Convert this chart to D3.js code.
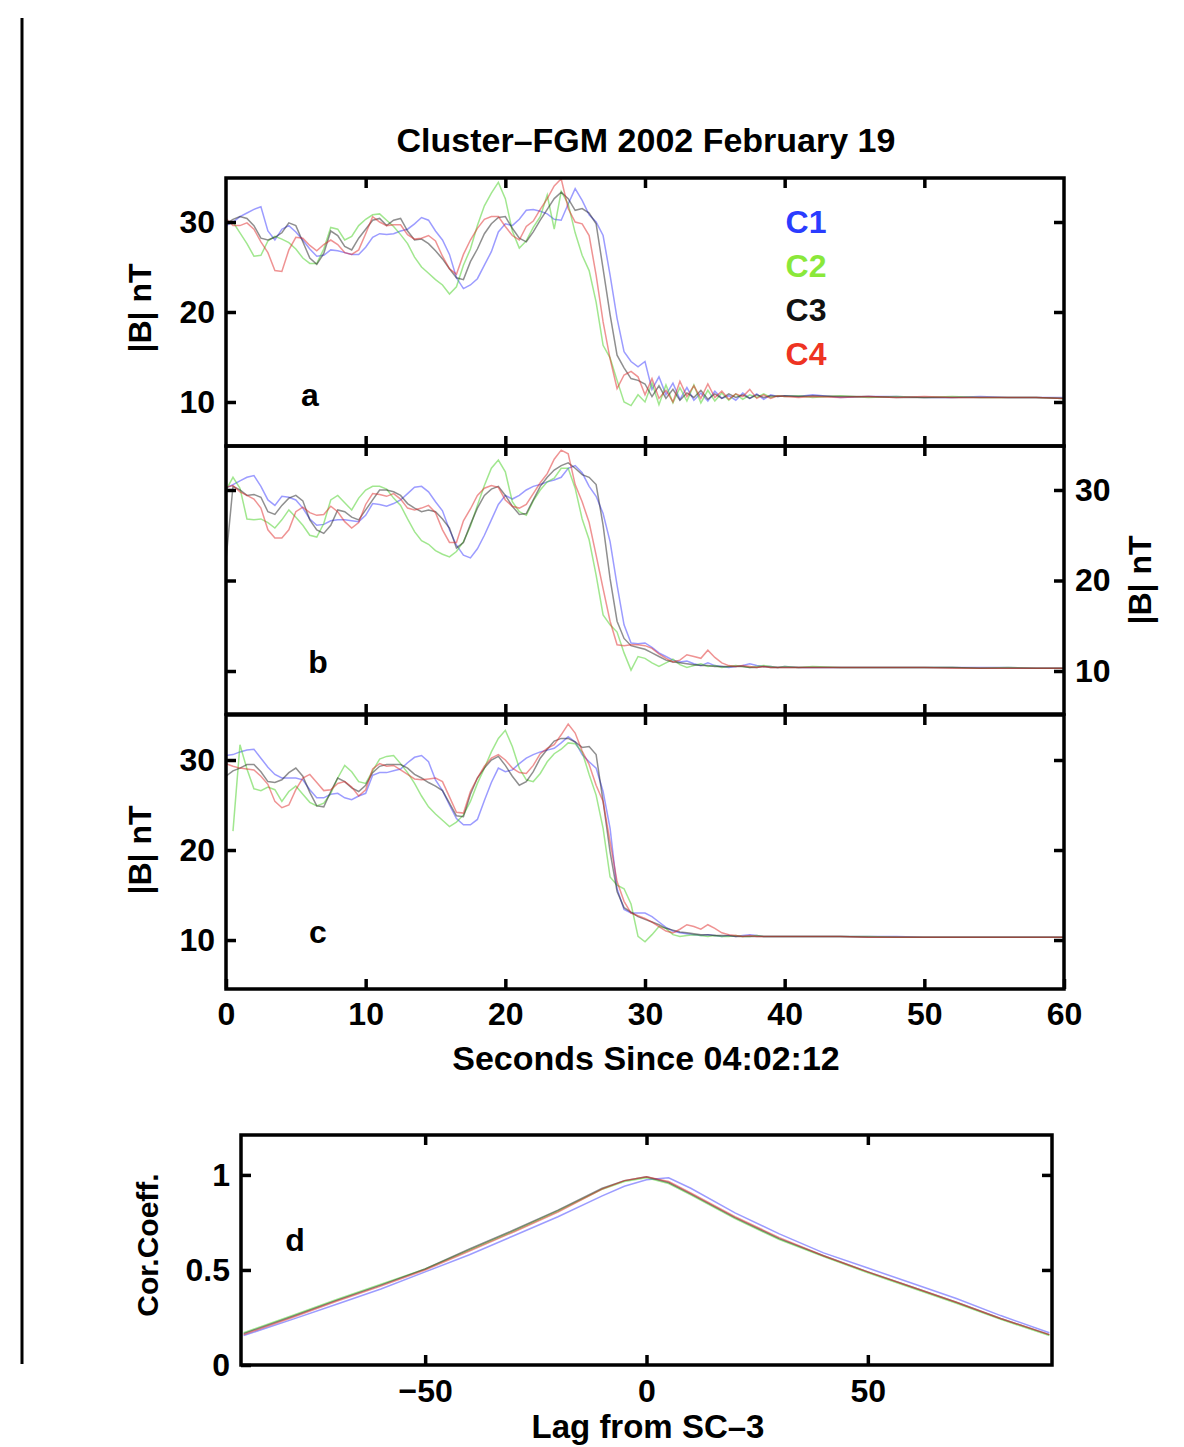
<!DOCTYPE html>
<html>
<head>
<meta charset="utf-8">
<script src="https://cdn.jsdelivr.net/npm/d3@7"></script>
<style>
  body { margin: 0; background: #fff; }
  text { font-family: "Liberation Sans", Arial, sans-serif; font-weight: bold; fill: #000; }
</style>
</head>
<body>
<svg id="chart" width="1184" height="1447"></svg>
<script>
// time grid, seconds since 04:02:12
const secs = [
  0,0.5,1,1.5,2,2.5,3,3.5,4,4.5,
  5,5.5,6,6.5,7,7.5,8,8.5,9,9.5,
  10,10.5,11,11.5,12,12.5,13,13.5,14,14.5,
  15,15.5,16,16.5,17,17.5,18,18.5,19,19.5,
  20,20.5,21,21.5,22,22.5,23,23.5,24,24.5,
  25,25.5,26,26.5,27,27.5,28,28.5,29,29.5,
  30,30.5,31,31.5,32,32.5,33,33.5,34,34.5,
  35,35.5,36,36.5,37,37.5,38,38.5,39,39.5,
  40,41,42,44,46,48,50,52,54,56,58,60
];

// panel a : |B| as measured
const aC1 = [
  29.6,30.0,30.6,31.0,31.4,31.7,29.0,28.0,29.2,29.6,
  28.9,28.0,27.0,26.2,26.3,26.9,26.8,26.6,26.4,26.4,
  27.2,28.3,28.7,28.6,28.7,29.0,29.2,29.8,30.5,30.2,
  29.0,28.0,26.4,23.8,22.6,23.0,23.7,25.2,26.7,28.9,
  29.8,29.6,30.3,31.3,31.4,31.2,30.9,30.3,30.2,32.0,
  33.7,32.4,30.8,30.0,28.5,24.1,19.3,15.6,14.5,13.9,
  14.5,11.4,12.8,10.8,12.1,10.3,11.6,10.2,11.0,10.1,
  11.2,10.4,10.7,10.2,11.0,10.4,10.9,10.3,10.8,10.6,
  10.7,10.6,10.8,10.5,10.6,10.6,10.5,10.5,10.6,10.5,10.5,10.5
];
const aC2 = [
  30.0,30.0,28.8,27.6,26.2,26.3,27.9,28.4,28.1,27.7,
  27.0,26.0,25.4,25.4,27.0,29.4,29.2,28.0,28.4,29.6,
  30.3,30.8,30.9,30.2,29.5,28.6,27.6,26.1,25.0,24.3,
  23.6,23.0,22.0,22.8,25.2,27.0,29.6,31.8,33.2,34.4,
  32.6,29.0,27.1,27.9,29.4,30.6,33.0,29.2,33.4,32.0,
  28.8,26.3,24.6,21.1,16.3,14.9,12.4,10.0,9.6,10.8,
  10.0,12.1,9.7,11.9,9.9,11.6,10.1,11.9,9.9,11.3,
  10.1,11.0,10.2,10.9,10.3,10.8,10.5,10.9,10.5,10.7,
  10.6,10.7,10.5,10.7,10.5,10.6,10.5,10.6,10.5,10.5,10.5,10.4
];
const aC3 = [
  29.8,30.3,30.6,30.4,29.6,28.2,28.0,28.3,28.8,29.9,
  29.6,27.8,26.0,25.3,26.5,29.0,28.5,27.3,26.9,28.2,
  29.2,30.2,30.4,29.6,30.2,30.4,29.0,28.0,28.1,27.6,
  26.8,25.9,24.8,23.8,23.6,25.6,27.0,28.7,29.8,30.5,
  30.6,29.3,28.2,27.8,28.9,30.2,31.4,32.6,33.3,32.6,
  31.3,31.5,31.0,29.8,24.8,19.7,15.2,13.8,12.6,12.4,
  12.0,10.6,11.8,10.4,11.4,10.2,11.0,10.5,11.3,10.3,
  10.9,10.4,10.9,10.5,10.8,10.4,10.8,10.5,10.7,10.6,
  10.7,10.6,10.7,10.6,10.6,10.5,10.5,10.5,10.5,10.5,10.5,10.4
];
const aC4 = [
  30.4,29.6,29.6,29.9,29.2,27.8,26.6,24.6,24.5,26.9,
  28.3,28.2,27.4,26.8,27.5,28.0,27.5,26.6,26.4,26.9,
  28.7,30.6,30.0,29.6,29.7,29.7,28.6,28.1,28.2,28.5,
  27.9,26.2,24.8,24.2,26.4,28.0,29.3,30.3,30.6,30.6,
  29.5,28.5,28.0,29.5,30.1,31.4,32.6,34.0,34.8,31.5,
  30.0,29.8,28.5,24.1,18.9,14.8,11.5,13.0,13.4,12.8,
  10.8,12.6,10.4,11.3,10.0,12.3,10.6,11.8,10.4,12.0,
  10.5,11.2,10.3,10.9,10.6,11.4,10.4,10.8,10.4,10.7,
  10.6,10.5,10.6,10.5,10.6,10.5,10.6,10.5,10.5,10.5,10.5,10.4
];

// panel b
const bC1 = [
  30.2,30.6,31.0,31.4,31.6,30.4,28.9,28.3,29.3,29.2,
  28.9,28.0,26.8,26.1,26.2,26.6,26.7,26.7,26.6,26.5,
  27.2,28.5,28.4,28.2,28.5,28.9,29.6,30.3,30.4,29.8,
  28.7,27.7,25.6,23.9,22.8,22.5,23.5,25.0,26.7,28.4,
  29.4,29.0,29.4,30.0,30.4,30.6,30.9,31.1,31.4,32.4,
  32.7,31.9,30.4,29.3,27.4,24.3,19.5,15.1,13.1,13.0,
  13.1,12.6,12.0,11.6,11.2,11.0,11.1,10.8,10.6,10.9,
  10.6,10.5,10.4,10.5,10.6,10.8,10.6,10.5,10.5,10.4,
  10.5,10.4,10.4,10.4,10.4,10.4,10.4,10.4,10.4,10.4,10.3,10.3
];
const bC2 = [
  30.0,31.4,30.2,26.8,26.7,26.8,26.4,25.8,26.7,27.8,
  27.0,26.1,25.0,24.8,26.3,28.9,29.4,28.6,27.8,29.1,
  30.0,30.4,30.4,30.1,29.1,28.3,26.8,25.4,24.4,24.0,
  23.3,22.9,22.6,23.2,24.3,26.0,28.3,30.5,32.4,33.3,
  32.0,28.7,27.6,27.2,28.8,30.0,30.9,31.3,32.4,32.4,
  30.2,26.8,24.5,20.6,16.2,15.1,14.3,12.0,10.1,11.6,
  11.4,10.9,10.5,10.9,11.3,10.7,10.4,10.6,10.8,10.5,
  10.6,10.4,10.5,10.6,10.5,10.4,10.5,10.6,10.5,10.4,
  10.5,10.4,10.5,10.4,10.4,10.4,10.4,10.4,10.3,10.4,10.3,10.3
];
const bC3 = [
  22.3,30.4,30.0,29.4,29.5,29.2,27.6,27.3,28.3,29.1,
  29.4,28.8,26.7,25.6,25.2,26.1,27.8,27.6,27.0,26.7,
  27.8,28.9,30.0,30.0,29.8,29.4,28.5,28.0,27.6,27.8,
  27.6,26.8,25.8,23.6,24.2,26.2,28.0,29.4,30.1,30.4,
  29.4,28.2,27.3,27.4,28.9,30.4,31.4,32.2,32.7,33.0,
  32.4,31.7,31.4,30.6,26.1,20.2,15.5,13.6,12.8,12.6,
  12.4,12.0,11.6,11.2,11.0,10.9,10.8,10.7,10.6,10.6,
  10.5,10.5,10.5,10.5,10.5,10.4,10.4,10.5,10.4,10.4,
  10.4,10.4,10.4,10.4,10.4,10.4,10.4,10.4,10.3,10.3,10.3,10.3
];
const bC4 = [
  30.3,30.5,29.8,29.4,29.0,28.0,25.6,24.7,24.7,25.6,
  27.6,28.1,27.5,27.2,27.3,28.2,27.6,26.5,25.8,26.4,
  28.4,29.6,29.5,29.3,29.6,29.0,28.0,27.8,28.0,28.3,
  27.5,25.6,24.2,24.2,26.6,27.9,29.4,30.2,30.5,30.3,
  28.9,28.2,28.0,28.4,29.6,30.8,31.8,33.4,34.4,34.0,
  30.6,28.7,26.4,22.8,19.1,15.5,12.9,12.8,12.9,12.9,
  12.8,12.5,11.9,11.4,11.0,11.2,11.8,11.6,11.4,12.3,
  11.5,10.9,10.6,10.5,10.6,10.5,10.4,10.5,10.4,10.4,
  10.4,10.4,10.4,10.4,10.4,10.4,10.4,10.3,10.3,10.3,10.3,10.3
];

// panel c
const cC1 = [
  30.5,30.6,30.9,31.1,31.2,30.2,29.2,28.4,28.0,28.0,
  28.0,27.8,26.7,25.8,25.8,26.2,26.3,25.8,25.6,26.0,
  26.3,28.3,28.6,28.6,28.8,29.0,29.7,30.3,30.5,29.8,
  27.8,26.6,25.0,23.5,22.8,22.8,23.4,25.5,27.5,29.1,
  28.7,28.9,29.6,30.2,30.6,30.9,31.1,31.3,31.9,32.6,
  32.0,30.6,29.8,29.1,26.5,22.4,15.7,13.4,13.0,13.0,
  13.0,12.6,12.0,11.4,11.0,10.8,10.7,10.6,10.5,10.6,
  10.5,10.4,10.5,10.4,10.5,10.6,10.5,10.4,10.4,10.4,
  10.4,10.4,10.4,10.4,10.4,10.4,10.3,10.3,10.3,10.3,10.3,10.3
];
const cC2 = [
  null,22.1,31.7,29.0,26.8,26.6,27.0,26.7,25.4,26.5,
  27.1,26.2,25.3,24.9,25.2,26.3,28.0,29.4,28.7,27.6,
  27.4,28.8,30.1,30.4,30.5,29.6,28.6,27.4,26.0,24.8,
  24.0,23.3,22.6,23.1,23.9,25.4,27.4,29.1,30.9,32.4,
  33.3,31.5,29.1,27.8,27.6,28.5,29.8,30.7,31.2,31.9,
  31.8,30.9,28.4,26.1,22.4,17.0,16.1,15.7,14.0,10.4,
  9.8,10.6,11.5,11.3,10.6,10.4,10.5,10.6,10.5,10.4,
  10.5,10.4,10.4,10.5,10.4,10.4,10.5,10.4,10.4,10.4,
  10.4,10.4,10.4,10.4,10.4,10.3,10.3,10.3,10.3,10.3,10.3,10.3
];
const cC3 = [
  28.2,28.8,29.1,29.5,29.5,28.7,27.6,27.5,27.8,28.6,
  29.1,28.2,26.4,24.9,24.8,26.5,28.0,27.6,26.9,26.5,
  27.2,28.6,29.3,29.5,29.5,29.5,29.1,28.4,28.0,27.5,
  27.1,26.6,25.2,23.8,23.7,26.2,28.0,29.1,30.0,30.4,
  29.4,28.2,27.2,27.6,28.7,30.2,31.2,32.1,32.4,32.4,
  32.0,31.4,31.5,30.6,25.4,19.8,15.4,13.6,13.1,12.6,
  12.3,12.0,11.7,11.3,11.1,10.9,10.8,10.7,10.6,10.6,
  10.5,10.5,10.5,10.4,10.4,10.4,10.4,10.4,10.4,10.4,
  10.4,10.4,10.4,10.4,10.3,10.3,10.3,10.3,10.3,10.3,10.3,10.3
];
const cC4 = [
  29.6,29.3,29.1,29.0,28.9,28.2,27.3,25.4,24.7,25.0,
  26.7,28.0,28.4,27.5,26.6,26.7,27.4,27.6,27.0,26.0,
  26.7,29.0,29.6,29.3,29.4,28.9,28.4,27.9,27.8,27.9,
  28.0,27.6,25.9,24.2,24.1,26.5,28.0,29.3,30.2,30.6,
  30.0,29.1,28.6,28.5,29.4,30.7,31.3,31.7,32.8,34.0,
  33.0,31.0,29.5,27.2,25.4,20.9,16.5,14.3,13.0,12.7,
  12.4,12.0,11.5,11.0,10.8,11.2,11.7,11.5,11.2,11.7,
  11.3,10.8,10.6,10.5,10.4,10.5,10.4,10.4,10.4,10.4,
  10.4,10.4,10.4,10.4,10.3,10.3,10.3,10.3,10.3,10.3,10.3,10.3
];

// panel d : correlation with SC-3 against lag
const lags = [-91,-80,-70,-60,-50,-40,-30,-20,-10,-5,0,5,10,20,30,40,50,60,70,80,91];
const dC1 = [0.155,0.24,0.32,0.40,0.49,0.58,0.68,0.78,0.89,0.94,0.975,0.985,0.93,0.80,0.69,0.59,0.51,0.43,0.35,0.26,0.17];
const dC2 = [0.17,0.26,0.345,0.425,0.505,0.605,0.705,0.81,0.925,0.965,0.985,0.955,0.895,0.77,0.66,0.57,0.485,0.405,0.325,0.24,0.155];
const dC3 = [0.165,0.255,0.34,0.42,0.505,0.61,0.71,0.815,0.93,0.97,0.99,0.96,0.90,0.775,0.665,0.575,0.49,0.41,0.33,0.245,0.16];
const dC4 = [0.16,0.25,0.335,0.415,0.50,0.60,0.70,0.805,0.925,0.97,0.99,0.965,0.905,0.78,0.67,0.575,0.49,0.41,0.33,0.245,0.16];

const craftNames = ["C1", "C2", "C3", "C4"];
const lineColors = ["#3a3aff", "#44d020", "#202020", "#e02828"];
const legendColors = ["#2a3cff", "#8ae83a", "#111111", "#ee3322"];
const bTicks = [10, 20, 30];

const svg = d3.select("#chart");
const L = 226, R = 1064;
const x = d3.scaleLinear().domain([0, 60]).range([L, R]);

const panels = [
  {letter: "a", top: 178, bottom: 446, lo: 5.11, hi: 34.89, rows: [aC1, aC2, aC3, aC4], side: "left", lpos: [310, 395]},
  {letter: "b", top: 446, bottom: 714, lo: 5.25, hi: 34.86, rows: [bC1, bC2, bC3, bC4], side: "right", lpos: [318, 662]},
  {letter: "c", top: 715, bottom: 989, lo: 4.56, hi: 35.0, rows: [cC1, cC2, cC3, cC4], side: "left", lpos: [318, 932]}
];

function styleAxis(g) {
  g.select(".domain").remove();
  g.selectAll(".tick line").attr("stroke", "#000").attr("stroke-width", 3.5);
  g.selectAll(".tick text").attr("font-size", 32).attr("fill", "#000")
    .attr("font-family", "Liberation Sans, Arial, sans-serif").attr("font-weight", "bold");
}

panels.forEach((p, i) => {
  const y = d3.scaleLinear().domain([p.lo, p.hi]).range([p.bottom, p.top]);
  const clipId = "clip" + i;
  svg.append("clipPath").attr("id", clipId)
    .append("rect").attr("x", L).attr("y", p.top).attr("width", R - L).attr("height", p.bottom - p.top);

  const line = d3.line()
    .defined(d => d[1] != null)
    .x(d => x(d[0]))
    .y(d => y(d[1]));

  const g = svg.append("g").attr("clip-path", "url(#" + clipId + ")");
  p.rows.forEach((vals, k) => {
    g.append("path")
      .datum(secs.map((t, j) => [t, vals[j]]))
      .attr("fill", "none")
      .attr("stroke", lineColors[k])
      .attr("stroke-opacity", 0.5)
      .attr("stroke-width", 1.5)
      .attr("d", line);
  });

  // inward ticks
  svg.append("g").attr("transform", "translate(0," + p.top + ")")
    .call(d3.axisTop(x).tickValues([10, 20, 30, 40, 50]).tickSizeInner(-10).tickSizeOuter(0).tickFormat(""))
    .call(styleAxis);
  const bottomAxis = d3.axisBottom(x).tickSizeInner(-10).tickSizeOuter(0).tickPadding(13);
  if (i === 2) bottomAxis.tickValues([0, 10, 20, 30, 40, 50, 60]);
  else bottomAxis.tickValues([10, 20, 30, 40, 50]).tickFormat("");
  svg.append("g").attr("transform", "translate(0," + p.bottom + ")").call(bottomAxis).call(styleAxis);

  const leftAxis = d3.axisLeft(y).tickValues(bTicks).tickSizeInner(-10).tickSizeOuter(0).tickPadding(11);
  const rightAxis = d3.axisRight(y).tickValues(bTicks).tickSizeInner(-10).tickSizeOuter(0).tickPadding(11);
  if (p.side === "left") rightAxis.tickFormat(""); else leftAxis.tickFormat("");
  svg.append("g").attr("transform", "translate(" + L + ",0)").call(leftAxis).call(styleAxis);
  svg.append("g").attr("transform", "translate(" + R + ",0)").call(rightAxis).call(styleAxis);

  svg.append("rect").attr("x", L).attr("y", p.top).attr("width", R - L).attr("height", p.bottom - p.top)
    .attr("fill", "none").attr("stroke", "#000").attr("stroke-width", 3.5);

  svg.append("text").attr("x", p.lpos[0]).attr("y", p.lpos[1]).attr("text-anchor", "middle")
    .attr("dominant-baseline", "central").attr("font-size", 32).text(p.letter);
});

// legend in panel a
craftNames.forEach((name, k) => {
  svg.append("text").attr("x", 806).attr("y", 222 + k * 44).attr("text-anchor", "middle")
    .attr("dominant-baseline", "central").attr("font-size", 32)
    .style("fill", legendColors[k]).text(name);
});

// titles and axis labels
svg.append("text").attr("x", 646).attr("y", 140).attr("text-anchor", "middle")
  .attr("dominant-baseline", "central").attr("font-size", 34).text("Cluster\u2013FGM 2002 February 19");
svg.append("text").attr("x", 646).attr("y", 1058).attr("text-anchor", "middle")
  .attr("dominant-baseline", "central").attr("font-size", 34).text("Seconds Since 04:02:12");
[[140, 308], [1140, 580], [140, 850]].forEach(pos => {
  svg.append("text").attr("transform", "translate(" + pos[0] + "," + pos[1] + ") rotate(-90)")
    .attr("text-anchor", "middle").attr("dominant-baseline", "central").attr("font-size", 32).text("|B| nT");
});

// panel d
const dL = 241, dR = 1052, dTop = 1135, dBot = 1365;
const xd = d3.scaleLinear().domain([-91.6, 91.6]).range([dL, dR]);
const yd = d3.scaleLinear().domain([0, 1.21]).range([dBot, dTop]);
svg.append("clipPath").attr("id", "clipd")
  .append("rect").attr("x", dL).attr("y", dTop).attr("width", dR - dL).attr("height", dBot - dTop);
const dline = d3.line().x(d => xd(d[0])).y(d => yd(d[1]));
const gd = svg.append("g").attr("clip-path", "url(#clipd)");
[dC1, dC2, dC3, dC4].forEach((vals, k) => {
  gd.append("path")
    .datum(lags.map((l, j) => [l, vals[j]]))
    .attr("fill", "none")
    .attr("stroke", lineColors[k])
    .attr("stroke-opacity", 0.5)
    .attr("stroke-width", 1.5)
    .attr("d", dline);
});
svg.append("g").attr("transform", "translate(0," + dTop + ")")
  .call(d3.axisTop(xd).tickValues([-50, 0, 50]).tickSizeInner(-10).tickSizeOuter(0).tickFormat(""))
  .call(styleAxis);
svg.append("g").attr("transform", "translate(0," + dBot + ")")
  .call(d3.axisBottom(xd).tickValues([-50, 0, 50]).tickSizeInner(-10).tickSizeOuter(0).tickPadding(14))
  .call(styleAxis);
svg.append("g").attr("transform", "translate(" + dL + ",0)")
  .call(d3.axisLeft(yd).tickValues([0, 0.5, 1]).tickSizeInner(-10).tickSizeOuter(0).tickPadding(11).tickFormat(d => String(d)))
  .call(styleAxis);
svg.append("g").attr("transform", "translate(" + dR + ",0)")
  .call(d3.axisRight(yd).tickValues([0.5, 1]).tickSizeInner(-10).tickSizeOuter(0).tickFormat(""))
  .call(styleAxis);
svg.append("rect").attr("x", dL).attr("y", dTop).attr("width", dR - dL).attr("height", dBot - dTop)
  .attr("fill", "none").attr("stroke", "#000").attr("stroke-width", 3.5);
svg.append("text").attr("x", 295).attr("y", 1240).attr("text-anchor", "middle")
  .attr("dominant-baseline", "central").attr("font-size", 32).text("d");
svg.append("text").attr("transform", "translate(147,1245) rotate(-90)")
  .attr("text-anchor", "middle").attr("dominant-baseline", "central").attr("font-size", 30).text("Cor.Coeff.");
svg.append("text").attr("x", 648).attr("y", 1426).attr("text-anchor", "middle")
  .attr("dominant-baseline", "central").attr("font-size", 33).text("Lag from SC\u20133");

// margin rule at the left of the page
svg.append("line").attr("x1", 22).attr("x2", 22).attr("y1", 18).attr("y2", 1364)
  .attr("stroke", "#000").attr("stroke-width", 3);
</script>
</body>
</html>
